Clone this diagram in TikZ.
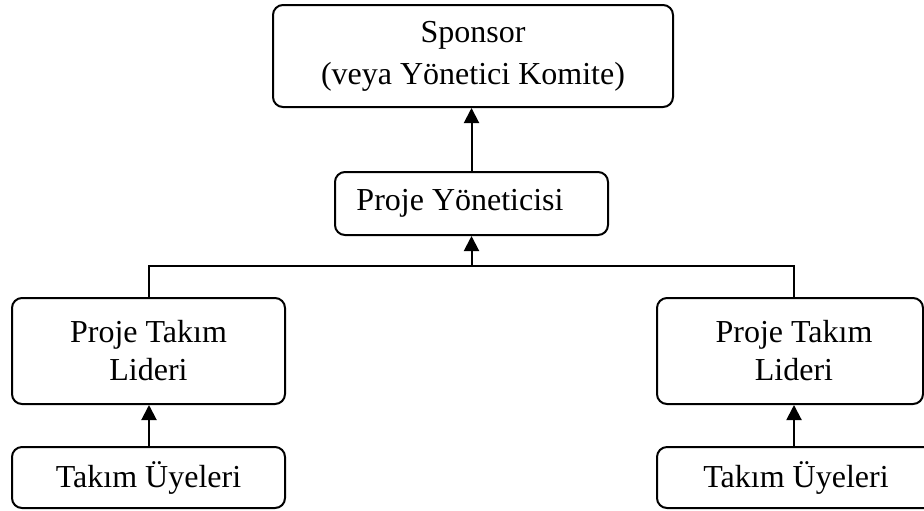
\documentclass[tikz,border=0pt]{standalone}
\usepackage{fontspec}
\setmainfont{Liberation Serif}
\usetikzlibrary{arrows.meta}
\begin{document}
\begin{tikzpicture}[x=0.5pt,y=-0.5pt,
  box/.style={draw=black, line width=1pt, rounded corners=5pt, inner sep=0pt,
              align=center, font=\fontsize{16}{20}\selectfont},
  link/.style={draw=black, line width=1pt},
  uparrow/.style={link, -{Triangle[width=7.5pt,length=7.5pt]}}]
  \useasboundingbox (0,0) rectangle (924,510);

  % boxes
  \node[box, minimum width=200pt, minimum height=51pt, font=\fontsize{16}{21}\selectfont] (sponsor) at (473,56)
    {Sponsor\\(veya Yönetici Komite)};
  \node[box, minimum width=136.5pt, minimum height=31.5pt] (pm) at (471.5,203.5)
    {Proje Yöneticisi\hspace*{11.5pt}};
  \node[box, minimum width=136.5pt, minimum height=53pt, font=\fontsize{16}{19}\selectfont] (leadL) at (148.5,351)
    {Proje Takım\\Lideri};
  \node[box, minimum width=133pt, minimum height=53pt, font=\fontsize{16}{19}\selectfont] (leadR) at (790,351)
    {\hspace*{4pt}Proje Takım\\\hspace*{4pt}Lideri};
  \node[box, minimum width=136.5pt, minimum height=30.5pt] (teamL) at (148.5,477.5)
    {Takım Üyeleri};
  \node[box, minimum width=151.5pt, minimum height=30.5pt] (teamR) at (808.5,477.5)
    {Takım Üyeleri\hspace*{12.5pt}};

  % bus line joining the two team leaders
  \coordinate (busL) at (149,266);
  \coordinate (busM) at (471.5,266);
  \coordinate (busR) at (794,266);

  \draw[uparrow] (pm.north) -- (pm.north |- sponsor.south);
  \draw[link] (busL |- leadL.north) -- (busL) -- (busR) -- (busR |- leadR.north);
  \draw[uparrow] (busM) -- (busM |- pm.south);
  \draw[uparrow] (busL |- teamL.north) -- (busL |- leadL.south);
  \draw[uparrow] (busR |- teamR.north) -- (busR |- leadR.south);
\end{tikzpicture}
\end{document}
